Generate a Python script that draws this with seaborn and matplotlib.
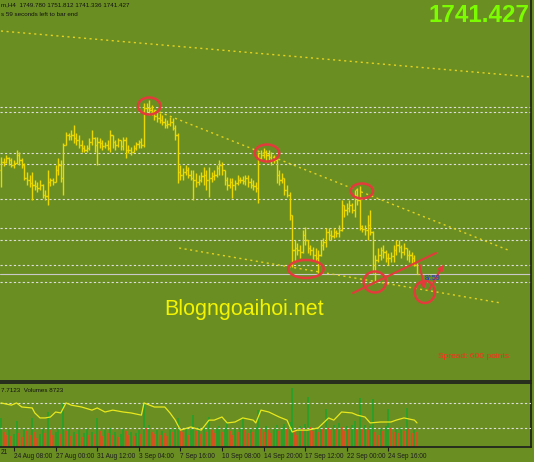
import matplotlib
matplotlib.use("Agg")
import numpy as np
import pandas as pd
import matplotlib.pyplot as plt
from matplotlib.patches import Ellipse
import seaborn as sns

# --- XAU H4 bars ---
highs = [
    1858, 1857, 1860, 1858, 1857, 1855, 1865, 1863, 1857, 1852,
    1843, 1840, 1843, 1835, 1833, 1835, 1831, 1825, 1845, 1837,
    1837, 1850, 1857, 1855, 1872, 1883, 1882, 1885, 1890, 1882,
    1880, 1875, 1870, 1870, 1877, 1885, 1878, 1878, 1877, 1875,
    1873, 1875, 1885, 1880, 1875, 1877, 1875, 1878, 1878, 1870,
    1868, 1870, 1873, 1875, 1877, 1912, 1912, 1915, 1910, 1905,
    1903, 1902, 1900, 1897, 1895, 1898, 1897, 1890, 1882, 1850,
    1847, 1850, 1848, 1845, 1845, 1842, 1840, 1843, 1848, 1845,
    1848, 1843, 1845, 1850, 1855, 1853, 1845, 1838, 1837, 1837,
    1835, 1840, 1838, 1839, 1840, 1840, 1837, 1835, 1833, 1863,
    1865, 1867, 1865, 1865, 1863, 1860, 1856, 1845, 1842, 1837,
    1830, 1823, 1800, 1775, 1772, 1770, 1785, 1788, 1775, 1770,
    1768, 1767, 1765, 1775, 1777, 1787, 1787, 1785, 1787, 1785,
    1790, 1815, 1810, 1812, 1815, 1812, 1825, 1827, 1829, 1790,
    1790, 1800, 1805, 1784, 1760, 1767, 1768, 1770, 1765, 1762,
    1763, 1770, 1775, 1775, 1770, 1772, 1767, 1765, 1763, 1760,
    1751.812,
]
lows = [
    1828, 1849, 1852, 1850, 1848, 1847, 1851, 1850, 1847, 1835,
    1830, 1828, 1815, 1825, 1823, 1825, 1817, 1815, 1810, 1829,
    1830, 1833, 1840, 1833, 1820, 1870, 1875, 1875, 1872, 1870,
    1867, 1863, 1863, 1863, 1865, 1870, 1863, 1850, 1867, 1865,
    1867, 1865, 1863, 1867, 1865, 1868, 1865, 1865, 1857, 1862,
    1860, 1863, 1865, 1867, 1867, 1868, 1903, 1900, 1900, 1895,
    1893, 1892, 1890, 1887, 1887, 1889, 1885, 1875, 1832, 1835,
    1835, 1840, 1837, 1835, 1815, 1828, 1830, 1833, 1830, 1825,
    1818, 1833, 1835, 1838, 1840, 1840, 1830, 1825, 1827, 1817,
    1825, 1830, 1832, 1831, 1830, 1828, 1827, 1825, 1823, 1812,
    1855, 1857, 1853, 1855, 1850, 1852, 1832, 1830, 1832, 1820,
    1818, 1795, 1748, 1753, 1760, 1757, 1762, 1770, 1762, 1760,
    1755, 1753, 1742, 1759, 1765, 1768, 1775, 1775, 1777, 1778,
    1778, 1784, 1798, 1800, 1803, 1802, 1798, 1810, 1785, 1783,
    1780, 1775, 1780, 1742, 1732, 1753, 1755, 1757, 1753, 1750,
    1753, 1753, 1760, 1763, 1757, 1760, 1755, 1753, 1750, 1749,
    1741.336,
]
closes = [
    1853, 1853, 1857, 1855, 1850, 1852, 1860, 1855, 1850, 1837,
    1835, 1832, 1830, 1829, 1827, 1830, 1820, 1819, 1833, 1835,
    1833, 1845, 1850, 1837, 1870, 1880, 1879, 1880, 1877, 1875,
    1870, 1867, 1865, 1867, 1873, 1877, 1870, 1873, 1872, 1869,
    1870, 1867, 1880, 1873, 1870, 1875, 1869, 1875, 1865, 1865,
    1863, 1867, 1871, 1873, 1870, 1907, 1907, 1905, 1903, 1899,
    1897, 1895, 1893, 1890, 1891, 1893, 1887, 1880, 1843, 1840,
    1843, 1845, 1840, 1837, 1835, 1833, 1835, 1839, 1840, 1835,
    1837, 1839, 1840, 1847, 1850, 1845, 1835, 1830, 1833, 1830,
    1832, 1835, 1835, 1834, 1837, 1833, 1830, 1829, 1827, 1857,
    1860, 1863, 1860, 1858, 1855, 1855, 1840, 1835, 1837, 1825,
    1820, 1800, 1765, 1767, 1765, 1763, 1780, 1775, 1767, 1765,
    1760, 1757, 1760, 1770, 1773, 1783, 1780, 1779, 1783, 1782,
    1785, 1810, 1805, 1807, 1810, 1805, 1820, 1815, 1789, 1786,
    1785, 1790, 1783, 1750, 1755, 1760, 1765, 1763, 1757, 1757,
    1759, 1765, 1770, 1768, 1763, 1767, 1760, 1760, 1757, 1749.78,
    1741.427,
]
first_open = 1845

volumes = [
    2900, 1500, 1200, 1700, 1100, 1300, 2600, 1400, 1000, 1800,
    1600, 1200, 2900, 1500, 900, 1300, 1900, 1400, 3500, 1700,
    1200, 1500, 1800, 1300, 4400, 1600, 1900, 1100, 1500, 1300,
    1700, 1000, 1400, 1800, 1200, 1500, 1300, 2900, 1600, 1100,
    1700, 1400, 1900, 1200, 1500, 1000, 1300, 1800, 1600, 1200,
    1500, 1100, 1400, 1700, 1300, 4400, 1900, 2200, 1500, 1300,
    1700, 1200, 1600, 1400, 1100, 1800, 1500, 2000, 2900, 1800,
    1500, 1900, 1200, 1700, 3200, 1600, 2000, 1300, 1900, 1500,
    3000, 1700, 1400, 1800, 2100, 1500, 1900, 2500, 1600, 1200,
    1800, 1500, 1900, 2900, 1700, 1400, 1800, 1500, 2000, 3700,
    1900, 1500, 2100, 1700, 1400, 1800, 2200, 1600, 2000, 2300,
    1800, 2500, 5900, 1700, 1200, 2100, 1900, 2300, 5000, 2000,
    1600, 1900, 1500, 2100, 1800, 3800, 1900, 1700, 2200, 1800,
    2400, 2000, 1600, 2100, 1800, 2200, 2600, 1900, 4900, 1800,
    2200, 1700, 2100, 4800, 1500, 1200, 1900, 1600, 2100, 3800,
    1900, 1500, 1800, 1400, 2000, 1600, 3900, 1800, 1400, 1700,
    1500,
]

# indicator line in the lower window (bar index, value)
ind_idx = [0, 4, 6, 8, 12, 13, 15, 17, 19, 21, 23, 25, 27, 31, 35, 37, 40, 43, 47, 50,
           54, 55, 59, 63, 65, 67, 69, 73, 77, 80, 82, 85, 87, 90, 93, 97, 98, 100, 103, 107,
           110, 112, 114, 118, 122, 126, 128, 131, 135, 137, 140, 142, 146, 150, 152, 155, 159, 160]
ind_val = [14.1, 13.4, 14.1, 12.8, 12.5, 10.9, 9.3, 9.3, 9.6, 11.2, 10.9, 14.1, 13.4, 12.8, 11.8, 12.5, 11.2, 11.8, 11.2, 10.9,
           10.2, 14.1, 12.8, 12.8, 10.9, 8.6, 5.4, 6.4, 5.4, 8.6, 8.6, 9.6, 7.7, 8.0, 9.3, 8.6, 7.7, 11.8, 11.2, 9.6,
           8.6, 4.8, 5.4, 5.4, 6.1, 9.3, 8.6, 11.2, 10.9, 10.2, 9.6, 7.7, 8.0, 8.0, 8.6, 9.3, 8.6, 7.7]
ind_levels = [14.0, 6.0]

# horizontal levels, bid, trend lines, circles
levels = [1908, 1903, 1862, 1851, 1816, 1787, 1775, 1750, 1733]
bid = 1741.427
trend_idx = [(0, 204), (57, 195), (68.5, 192.3)]
trend_px = [(1984, 1938), (1907, 1765), (1767, 1712)]
circle_idx = [57.0, 102.3, 138.8, 117.3, 143.8, 163.0]
circle_px = [1909, 1862, 1824, 1746, 1733, 1723]
circle_w = [8.6, 9.4, 8.6, 13.6, 8.6, 7.8]
circle_h = [17, 17, 15, 18, 21, 22]
red_line = [(135.4, 1722), (167.3, 1762)]
arrows = [((160.8, 1753), (163.1, 1723)), ((164.2, 1723), (170.8, 1753))]

tick_idx = [5, 21, 37, 53, 69, 85, 101, 117, 133, 149]
tick_labels = ["24 Aug 08:00", "27 Aug 00:00", "31 Aug 12:00", "3 Sep 04:00", "7 Sep 16:00",
               "10 Sep 08:00", "14 Sep 20:00", "17 Sep 12:00", "22 Sep 00:00", "24 Sep 16:00"]

BG = "#6B8E23"
BAR = "#EAD800"
RED = "#E33B3B"
DARK = "#1c1c1c"
GRID = "#dedede"

sns.set_theme(style="dark", rc={"axes.facecolor": BG, "figure.facecolor": BG})
plt.rcParams["font.family"] = ["Liberation Sans", "DejaVu Sans"]

W, H = 534, 462
fig = plt.figure(figsize=(W / 100, H / 100), dpi=100)
ax = fig.add_axes([0, 1 - 381 / H, 531 / W, 381 / H])
axv = fig.add_axes([0, 1 - 447 / H, 531 / W, 64 / H])

x = np.arange(len(closes))
opens = [first_open] + closes[:-1]
xlim = (-1 / 2.6, 530 / 2.6)

# --- price window ---
for p in levels:
    ax.axhline(p, color=GRID, lw=0.8, ls=(0, (2, 2)), zorder=1)
ax.axhline(bid, color="#c9c9c9", lw=0.8, zorder=1)
for (i0, i1), (p0, p1) in zip(trend_idx, trend_px):
    ax.plot([i0, i1], [p0, p1], color="#E4D21E", lw=1.0, ls=(0, (1.5, 2.5)), zorder=2)

ax.vlines(x, lows, highs, color=BAR, lw=1.0, zorder=3)
ax.hlines(opens, x - 0.55, x, color=BAR, lw=1.0, zorder=3)
ax.hlines(closes, x, x + 0.55, color=BAR, lw=1.0, zorder=3)

for cx, cy, w, h in zip(circle_idx, circle_px, circle_w, circle_h):
    ax.add_patch(Ellipse((cx, cy), w, h, fill=False, ec=RED, lw=1.8, zorder=5))
ax.plot([red_line[0][0], red_line[1][0]], [red_line[0][1], red_line[1][1]], color=RED, lw=1.5, zorder=5)
for start, end in arrows:
    ax.annotate("", xy=end, xytext=start,
                arrowprops=dict(arrowstyle="-|>", color=RED, lw=1.5, mutation_scale=7))

ax.set_xlim(*xlim)
ax.set_ylim(2015 - 381, 2015)
ax.set_xticks([])
ax.set_yticks([])
for side in ["left", "top"]:
    ax.spines[side].set_visible(False)
for side in ["right", "bottom"]:
    ax.spines[side].set_color(DARK)
    ax.spines[side].set_linewidth(1.2)

# --- volumes window ---
vcol = ["#22A22A" if i == 0 or volumes[i] >= volumes[i - 1] else "#E8461E" for i in range(len(volumes))]
axv.vlines(x, 0, volumes, colors=vcol, lw=1.2, zorder=2)
axv.set_xlim(*xlim)
axv.set_ylim(0, 6400)
axv.set_yticks([])
axv.set_xticks(tick_idx)
axv.set_xticklabels(tick_labels, ha="left", fontsize=4.7, color=DARK)
axv.tick_params(axis="x", direction="out", length=3, width=0.8, color=DARK, pad=1, bottom=True)
axv.spines["left"].set_visible(False)
for side in ["right", "top", "bottom"]:
    axv.spines[side].set_color(DARK)
    axv.spines[side].set_linewidth(1.2)

axi = axv.twinx()
for lv in ind_levels:
    axi.axhline(lv, color=GRID, lw=0.8, ls=(0, (2, 2)), zorder=1)
ind = pd.DataFrame({"bar": ind_idx, "value": ind_val})
sns.lineplot(data=ind, x="bar", y="value", ax=axi, color="#E8E81C", lw=0.9)
axi.set_ylim(0, 20.48)
axi.set_xlim(*xlim)
axi.set_yticks([])
axi.set_ylabel("")
axi.set_xlabel("")
for s in axi.spines.values():
    s.set_visible(False)

# --- texts ---
fig.text(1 / W, 1 - 5 / H, "m,H4  1749.780 1751.812 1741.336 1741.427",
         fontsize=4.5, color="#111111", va="center", ha="left")
fig.text(1 / W, 1 - 14 / H, "s 59 seconds left to bar end",
         fontsize=4.5, color="#111111", va="center", ha="left")
fig.text(529 / W, 1 - 16 / H, "1741.427", fontsize=17.5, fontweight="bold",
         color="#7CFC00", va="center", ha="right")
fig.text(244 / W, 1 - 310 / H, "Blogngoaihoi.net", fontsize=15.5,
         color="#F4F400", va="center", ha="center")
fig.text(438 / W, 1 - 357 / H, "Spread: 600 points", fontsize=6,
         color="#FF2A1A", va="center", ha="left")
fig.text(425 / W, 1 - 279 / H, "8/:59", fontsize=5, color="#2434C8", va="center", ha="left")
fig.text(1 / W, 1 - 390 / H, "7.7123  Volumes 8723", fontsize=4.5,
         color="#111111", va="center", ha="left")
fig.text(1 / W, 1 - 452 / H, "21", fontsize=4.7, color=DARK, va="center", ha="left")

fig.savefig("out.png", dpi=100, facecolor=BG)
